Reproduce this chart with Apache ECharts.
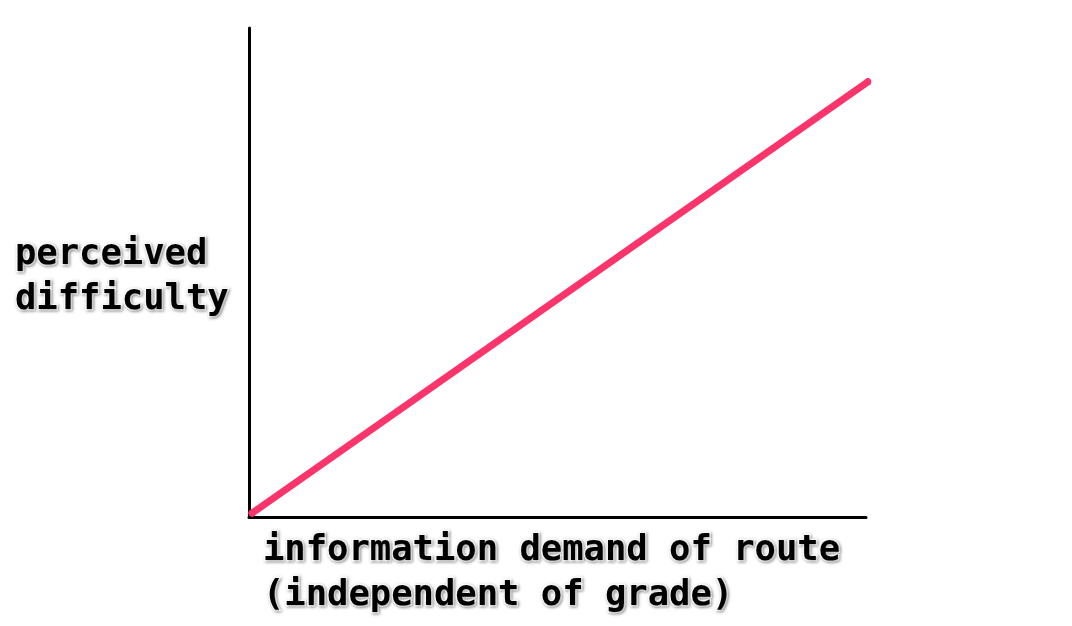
<!DOCTYPE html>
<html><head><meta charset="utf-8">
<script src="https://cdn.jsdelivr.net/npm/echarts@6/dist/echarts.min.js"></script>
<style>html,body{margin:0;padding:0;background:#fff}#c{width:1072px;height:626px}</style>
</head><body><div id="c"></div>
<script>
const xLabel = "information demand of route\n(independent of grade)";
const yLabel = "perceived\ndifficulty";
const lineX = [0.005, 1.003];
const lineY = [0.008, 0.89];

const textStyle = {
  fontFamily: "DejaVu Sans Mono",
  fontWeight: "bold",
  fontSize: 35.5,
  lineHeight: 45,
  color: "#000",
  textBorderColor: "#fff",
  textBorderWidth: 3,
  textShadowColor: "rgba(0,0,0,0.35)",
  textShadowBlur: 3,
  textShadowOffsetX: 1,
  textShadowOffsetY: 1
};

const chart = echarts.init(document.getElementById('c'));
chart.setOption({
  animation: false,
  backgroundColor: '#fff',
  grid: { left: 249, top: 28, right: 206, bottom: 109 },
  xAxis: { type: 'value', min: 0, max: 1, axisLine: { lineStyle: { color: '#000', width: 3 } },
    axisTick: { show: false }, axisLabel: { show: false }, splitLine: { show: false } },
  yAxis: { type: 'value', min: 0, max: 1, axisLine: { show: true, lineStyle: { color: '#000', width: 3 } },
    axisTick: { show: false }, axisLabel: { show: false }, splitLine: { show: false } },
  title: [
    { text: xLabel, left: 258, top: 523, textStyle: textStyle },
    { text: yLabel, left: 10, top: 227, textStyle: textStyle }
  ],
  series: [{
    type: 'line',
    data: lineX.map((x, i) => [x, lineY[i]]),
    showSymbol: true,
    symbol: 'circle',
    symbolSize: 7,
    itemStyle: { color: '#fb346c' },
    clip: false,
    lineStyle: { color: '#fb346c', width: 7, cap: 'round', join: 'round' }
  }]
});
</script></body></html>
